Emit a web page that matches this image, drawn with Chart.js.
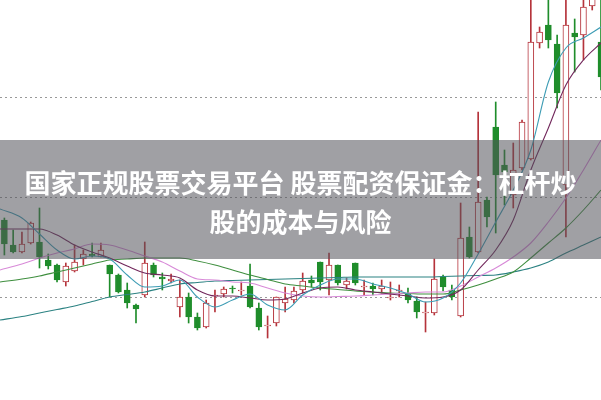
<!DOCTYPE html>
<html lang="zh">
<head>
  <meta charset="UTF-8">
  <title>股票K线图</title>
  <script src="https://cdn.jsdelivr.net/npm/chart.js"></script>
  <style>
    body { margin: 0; background: #fff; }
    .wrap { position: relative; width: 601px; height: 400px; overflow: hidden; }
    .banner {
      position: absolute; left: 0; top: 140px; width: 601px; height: 119px;
      box-sizing: border-box; padding-top: 22px;
      background: rgba(82, 82, 90, 0.55);
      color: #fff; font-family: "Noto Sans CJK SC", sans-serif; font-weight: 700;
      font-size: 26px; line-height: 39px; text-align: center; white-space: nowrap;
    }
  </style>
</head>
<body>
  <div class="wrap">
    <canvas id="kChart" width="601" height="400"></canvas>
    <div class="banner">国家正规股票交易平台 股票配资保证金：杠杆炒<br>股的成本与风险</div>
  </div>

  <script>
    // daily candles
    const opens  = [17.75,15.25,14.55,15.45,15.55,13.75,13.25,11.55,12.65,13.85,14.35,14.05,13.25,12.25,10.75,9.25,10.25,13.25,12.05,11.65,
                    9.05,10.05,8.05,7.05,10.15,10.35,10.95,10.65,11.15,8.95,7.15,7.45,9.45,9.75,10.75,11.75,13.55,11.75,13.25,11.25,
                    13.45,11.05,11.15,10.85,9.95,10.65,10.45,9.65,8.45,8.45,12.05,10.75,8.15,16.05,14.55,19.75,27.05,23.25,20.25,22.95,
                    23.85,35.45,37.25,35.35,21.25,36.45,36.25,39.15,35.55];
    const highs  = [17.95,16.75,16.55,17.55,18.95,14.35,13.35,13.45,15.25,14.75,15.45,15.45,13.25,12.35,11.45,9.35,15.55,13.45,12.45,12.35,
                    11.75,10.45,8.45,9.75,10.75,11.05,11.15,11.55,13.35,9.45,8.15,10.05,11.05,11.05,12.45,12.15,13.55,14.45,13.25,11.95,
                    13.45,11.75,11.45,11.75,11.55,11.25,10.95,10.05,9.55,13.85,12.25,11.25,19.45,17.05,28.55,20.05,29.55,24.75,25.45,27.75,
                    40.25,37.05,40.25,36.25,40.25,37.85,40.25,40.75,40.25];
    const lows   = [14.25,14.45,14.45,15.35,12.95,12.85,11.55,11.15,12.55,13.25,14.05,14.05,10.05,10.45,8.95,7.45,10.05,12.05,10.75,11.45,
                    8.05,7.45,6.75,6.95,8.55,10.05,10.45,10.25,8.95,6.75,5.95,7.15,8.55,9.45,10.45,11.05,10.75,10.25,11.25,10.85,
                    11.25,10.25,10.25,10.45,9.75,10.05,9.45,7.95,6.55,8.25,10.65,9.75,8.05,13.95,14.45,17.05,16.45,19.25,18.95,22.75,
                    23.75,34.95,34.95,28.95,16.05,32.55,33.75,38.75,30.75];
    const closes = [15.35,14.55,15.35,17.45,14.05,13.15,11.75,13.15,13.55,14.35,14.15,14.75,12.35,10.55,9.45,8.85,13.45,12.25,11.85,11.85,
                    10.05,8.05,6.95,9.45,10.25,10.85,10.85,10.75,9.05,7.05,7.25,10.05,9.85,10.65,11.65,11.45,11.55,13.25,11.45,11.65,
                    11.45,11.15,10.85,11.15,10.05,10.75,9.75,8.55,8.55,11.85,11.05,10.05,15.95,14.05,19.55,18.05,22.25,22.55,22.75,27.55,
                    35.55,36.55,35.75,30.45,37.25,36.05,39.05,40.05,32.05];

    // moving average lines, sampled at these candle positions
    const maIdx = [-0.5,2,4,6,8,10,12,14,16,18,20,22,24,26,28,30,32,34,36,38,40,42,44,46,48,50,52,54,56,58,60,62,64,66,68];
    const ma5  = [18.85,17.95,16.35,14.75,13.85,14.15,13.85,12.25,11.05,11.15,11.75,10.05,9.05,9.75,10.35,9.25,8.75,10.25,11.25,11.85,
                  11.85,11.35,10.95,10.35,9.55,9.95,11.45,14.35,17.55,20.75,24.75,31.55,34.95,35.95,37.05];
    const ma10 = [16.85,16.85,16.85,16.25,15.25,14.55,13.95,13.15,12.45,12.25,11.95,10.75,10.15,10.15,9.95,9.75,9.85,10.45,10.95,11.05,
                  10.75,10.55,10.35,10.15,9.95,10.05,10.75,12.75,14.75,17.75,22.75,26.95,31.25,33.75,35.45];
    const ma20 = [12.75,13.35,13.95,14.45,14.85,15.35,15.25,14.75,14.15,13.55,12.65,11.85,11.75,11.55,11.45,10.95,10.45,10.15,10.05,10.1,
                  10.15,10.25,10.35,10.45,10.55,10.55,11.15,12.05,12.95,14.05,15.45,17.55,19.95,22.75,25.75];
    const ma30 = [11.55,11.85,12.15,12.55,12.95,13.35,13.75,13.85,13.95,13.95,13.95,13.65,13.25,12.75,12.25,11.8,11.35,11.15,10.95,10.8,
                  10.65,10.55,10.45,10.4,10.35,10.35,10.75,11.25,11.85,12.55,13.95,15.45,16.95,18.75,20.75];
    const ma60 = [7.75,8.1,8.45,8.8,9.15,9.6,10.05,10.3,10.55,10.95,11.35,11.5,11.65,11.7,11.75,11.8,11.85,11.9,11.95,12.0,
                  12.05,12.05,12.05,12.05,12.05,12.1,12.15,12.2,12.25,12.55,12.95,13.55,14.45,15.25,16.05];

    const yTicks = [10, 20, 30];

    const UP = '#b5333b';
    const DOWN = '#1f8d2b';

    const isUp = closes.map((c, i) => c >= opens[i]);

    function maLine(values, color, order) {
      return {
        type: 'line',
        data: values.map((v, k) => ({ x: maIdx[k], y: v })),
        borderColor: color,
        borderWidth: 1.1,
        pointRadius: 0,
        cubicInterpolationMode: 'monotone',
        order: order
      };
    }

    new Chart(document.getElementById('kChart'), {
      data: {
        datasets: [
          // wicks
          {
            type: 'bar',
            data: highs.map((h, i) => ({ x: i, y: [lows[i], h] })),
            backgroundColor: isUp.map(u => u ? UP : DOWN),
            barThickness: 1,
            grouped: false,
            order: 10
          },
          // bodies
          {
            type: 'bar',
            data: opens.map((o, i) => ({ x: i, y: [o, closes[i]] })),
            backgroundColor: isUp.map(u => u ? '#ffffff' : DOWN),
            borderColor: isUp.map(u => u ? UP : DOWN),
            borderWidth: 1,
            borderSkipped: false,
            barThickness: 6,
            grouped: false,
            order: 9
          },
          maLine(ma60, '#2b8282', 5),
          maLine(ma30, '#3f8f3f', 4),
          maLine(ma20, '#d88ad8', 3),
          maLine(ma10, '#72285c', 2),
          maLine(ma5, '#3d9cb4', 1)
        ]
      },
      options: {
        responsive: false,
        animation: false,
        events: [],
        layout: { padding: 0 },
        plugins: {
          legend: { display: false },
          tooltip: { enabled: false }
        },
        scales: {
          x: { type: 'linear', min: -0.5, max: 68, offset: false, display: false },
          y: {
            min: -0.25,
            max: 39.75,
            afterBuildTicks: scale => { scale.ticks = yTicks.map(v => ({ value: v })); },
            ticks: { display: false },
            border: { display: false, dash: [2, 3] },
            grid: { color: '#999999', drawTicks: false, lineWidth: 1 }
          }
        }
      }
    });
  </script>
</body>
</html>
